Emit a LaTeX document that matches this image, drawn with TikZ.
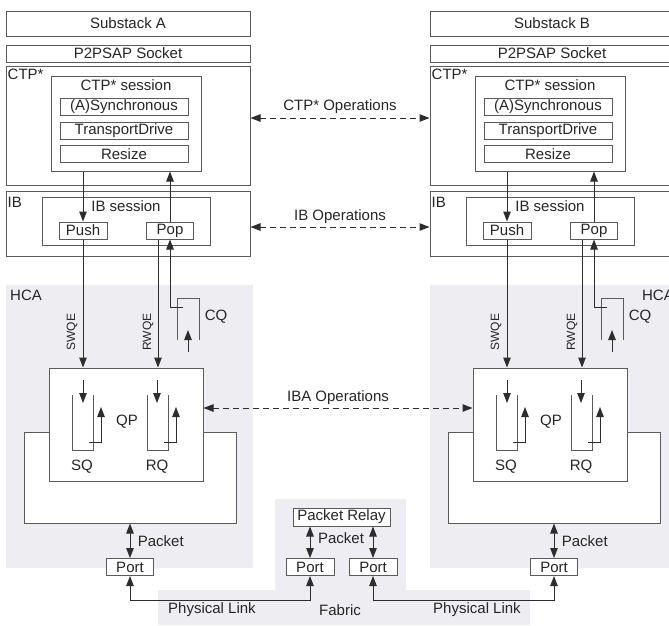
\documentclass[tikz,border=0pt]{standalone}
\usepackage{fontspec}
\setmainfont{Liberation Sans}
\usetikzlibrary{arrows.meta}

\definecolor{linegray}{RGB}{45,45,45}
\definecolor{boxgray}{RGB}{90,90,90}
\definecolor{areagray}{RGB}{237,237,242}

\begin{document}
\begin{tikzpicture}[x=1pt,y=-1pt]

 \tikzset{
    every node/.style={font=\fontsize{15}{17}\selectfont, text=black!85},
    box/.style={draw=boxgray, fill=white, inner sep=0pt, line width=1pt},
    small/.style={font=\fontsize{12}{14}\selectfont},
    line/.style={draw=boxgray, line width=1pt},
    arr/.style={draw=linegray, line width=1pt, -{Triangle[length=10pt,width=7.5pt]}},
    dbl/.style={draw=linegray, line width=1pt, {Triangle[length=10pt,width=7.5pt]}-{Triangle[length=10pt,width=7.5pt]}},
    ops/.style={dbl, dash pattern=on 6pt off 4pt},
  }

  \useasboundingbox (0,0) rectangle (669,625);
  \clip (0,0) rectangle (669,625);

  \fill[areagray] (275,499) rectangle (406,595);
  \fill[areagray] (158,590) rectangle (530,625);

  \foreach \s/\dx/\ha/\hx in {A/0/west/9,B/424/east/251} {
  \begin{scope}[xshift=\dx]
    \fill[areagray] (6,285) rectangle (253,568);
    \node[anchor=north \ha, inner sep=1pt] (hcalbl\s) at (\hx,289) {HCA};

    \node[box, minimum width=244, minimum height=25] (sub\s) at (128,23.5) {Substack \s};
    \node[box, minimum width=244, minimum height=17] (sock\s) at (128,53.5) {P2PSAP Socket};
    \node[box, minimum width=244, minimum height=119] (ctp\s) at (128,125.5) {};
    \node[anchor=north west, inner sep=2pt] (ctplbl\s) at ([yshift=-1pt]ctp\s.north west) {CTP*};
    \node[box, minimum width=150, minimum height=95] (sess\s) at (126,123.5) {};
    \node[anchor=north, inner sep=1pt] (sesslbl\s) at ([yshift=-3pt]sess\s.north) {CTP* session};
    \node[box, minimum width=128, minimum height=17] (sync\s) at (124,106.5) {(A)Synchronous};
    \node[box, minimum width=128, minimum height=17] (drive\s) at (124,130.5) {TransportDrive};
    \node[box, minimum width=128, minimum height=17] (resize\s) at (124,154) {Resize};

    \node[box, minimum width=244, minimum height=65] (ib\s) at (128,223.5) {};
    \node[anchor=north west, inner sep=2pt] (iblbl\s) at ([yshift=-4pt]ib\s.north west) {IB};
    \node[box, minimum width=168, minimum height=48] (ibs\s) at (126,221) {};
    \node[anchor=north, inner sep=1pt] (ibslbl\s) at ([yshift=-3pt]ibs\s.north) {IB session};
    \node[box, minimum width=48, minimum height=17] (push\s) at (83,230.5) {Push};
    \node[box, minimum width=47, minimum height=17] (pop\s) at (170,230.5) {Pop};
    \draw[arr] (sess\s.south -| push\s) -- (push\s.north);
    \draw[arr] (pop\s.north) -- (sess\s.south -| pop\s);

    \node[box, minimum width=212, minimum height=91] (hca\s) at (130,477.5) {};
    \node[box, minimum width=154, minimum height=113] (qp\s) at (126,424.5) {};
    \node (qplbl\s) at (127,422) {QP};
    \draw[arr] (push\s.south) -- (qp\s.north -| push\s);
    \node[small, rotate=90] (swqe\s) at (72,332) {SWQE};
    \draw[arr] ([xshift=-12pt]pop\s.south) -- ([xshift=-12pt]pop\s.south |- qp\s.north);
    \node[small, rotate=90] (rwqe\s) at (148,332) {RWQE};

    \draw[line] (177,340) -- (177,298) -- (199,298) -- (199,340);
    \draw[arr] (188,352) -- (188,330);
    \coordinate (cq\s) at (183,307);
    \draw[arr] (cq\s) -| (pop\s.south);
    \node (cqlbl\s) at (216,317) {CQ};

    \draw[line] (72,395) -- (72,450) -- (93,450) -- (93,395);
    \draw[arr] (83,380) -- (83,403);
    \draw[arr] (89,442) -- (101,442) -- (101,407);
    \node (sq\s) at (82,467) {SQ};
    \draw[line] (147,395) -- (147,450) -- (168,450) -- (168,395);
    \draw[arr] (157,380) -- (157,403);
    \draw[arr] (164,442) -- (176,442) -- (176,407);
    \node (rq\s) at (157,467) {RQ};

    \node[box, minimum width=47, minimum height=17] (port\s) at (130,567) {Port};
    \draw[dbl] (hca\s.south) -- (port\s.north) node[midway, right=4pt] {Packet};
  \end{scope}
  }

  \node[box, minimum width=97, minimum height=18] (relay) at (341.5,517) {Packet Relay};
  \node[box, minimum width=48, minimum height=17] (portF1) at (310,567) {Port};
  \node[box, minimum width=48, minimum height=17] (portF2) at (373,567) {Port};
  \draw[dbl] (relay.south -| portF1) -- (portF1.north);
  \draw[dbl] (relay.south -| portF2) -- (portF2.north);
  \node (pktF) at (341,538) {Packet};
  \draw[dbl] (portA.south) -- ++(0,24) -| (portF1.south);
  \draw[dbl] (portF2.south) -- ++(0,24) -| (portB.south);
  \node (linkA) at (212,610) {Physical Link};
  \node (fabric) at (340,610) {Fabric};
  \node (linkB) at (477,610) {Physical Link};

  \draw[ops] ([yshift=7.5pt]ctpA.east) -- ([yshift=7.5pt]ctpB.west) node[midway, above=1pt] {CTP* Operations};
  \draw[ops] ([yshift=-3.5pt]ibA.east) -- ([yshift=-3.5pt]ibB.west) node[midway, above=0pt] {IB Operations};
  \draw[ops] ([yshift=16.5pt]qpA.east) -- ([yshift=16.5pt]qpB.west) node[midway, above=0pt] {IBA Operations};
\end{tikzpicture}
\end{document}
